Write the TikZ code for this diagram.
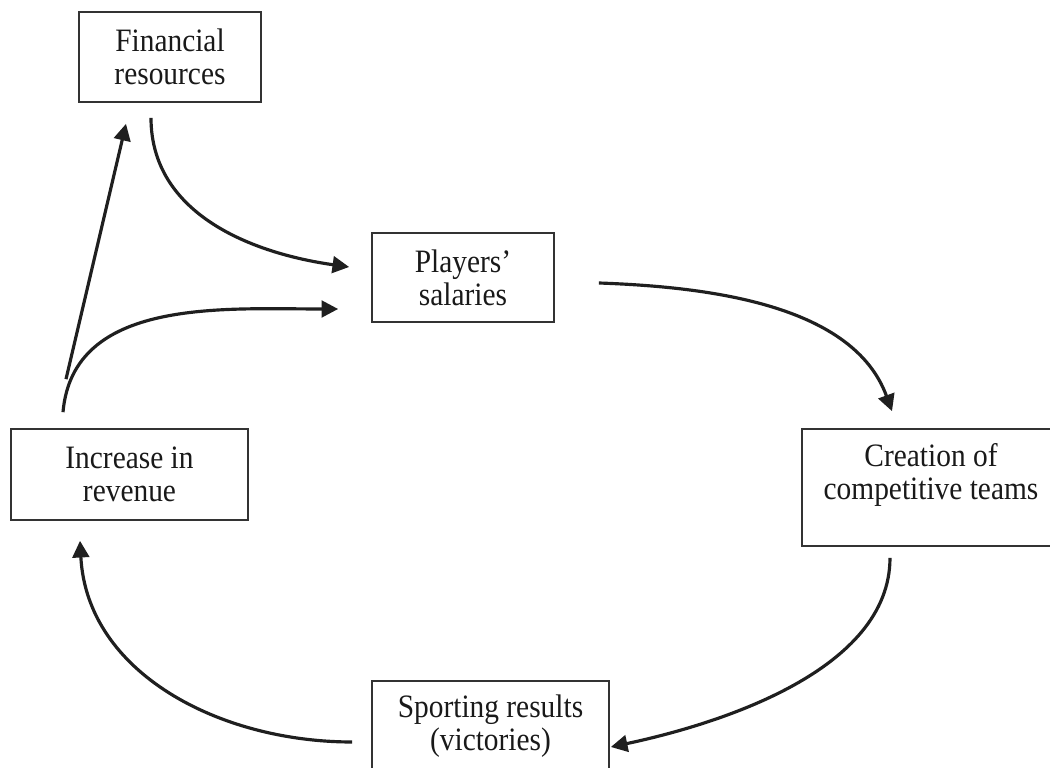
\documentclass[tikz,border=0pt]{standalone}
\usepackage{fontspec}
\setmainfont{Liberation Serif}[FakeStretch=0.9]
\usetikzlibrary{arrows.meta, positioning}

\begin{document}
\begin{tikzpicture}[x=0.3pt, y=0.3pt,
        block/.style={draw=black!80, line width=0.5pt, rectangle, align=center, inner sep=0pt,
            font=\fontsize{9.8}{10}\selectfont, text=black!90},
        flow/.style={draw=black!88, line width=0.95pt, -{Triangle[length=5pt, width=5pt]}}]
        \useasboundingbox (0,0) rectangle (1050,-768);

        \node[block, minimum width=54.6pt, minimum height=27pt] (fin) at (170,-57) {Financial\\resources}; % financial
        \node[block, minimum width=54.6pt, minimum height=26.7pt] (play) at (463,-277.5) {Players'\\salaries}; % salaries
        \node[block, minimum width=77.4pt, minimum height=35.1pt] (crea) at (931,-487.5) {Creation of\\competitive teams\rule[-9.5pt]{0pt}{0pt}}; % teams
        \node[block, minimum width=71.1pt, minimum height=27.3pt] (incr) at (129.5,-474.5) {Increase in\\revenue}; % revenue
        \node[block, minimum width=71.1pt, minimum height=27pt] (sport) at (490.5,-726) {Sporting results\\(victories)}; % results

        \draw[flow]
            ([shift={(-19,-15)}]fin.south) to[out=-90, in=172] ([shift={(-22,10.5)}]play.west);
        \draw[flow]
            ([shift={(-63.5,49)}]incr.north) -- ([shift={(-44,-21)}]fin.south);
        \draw[flow]
            ([shift={(-66.5,16)}]incr.north) to[out=85, in=180] ([shift={(-33,-31.5)}]play.west);
        \draw[flow]
            ([shift={(44,-5.5)}]play.east) to[out=-2, in=110, looseness=0.9] ([shift={(-39,17)}]crea.north);
        \draw[flow]
            ([shift={(-41,-11)}]crea.south) to[out=-90, in=12, looseness=0.85] ([shift={(1,-21)}]sport.east);
        \draw[flow]
            ([shift={(-19,-16)}]sport.west) to[out=180, in=-87] ([shift={(-49.5,-20)}]incr.south);
    \end{tikzpicture}
\end{document}
